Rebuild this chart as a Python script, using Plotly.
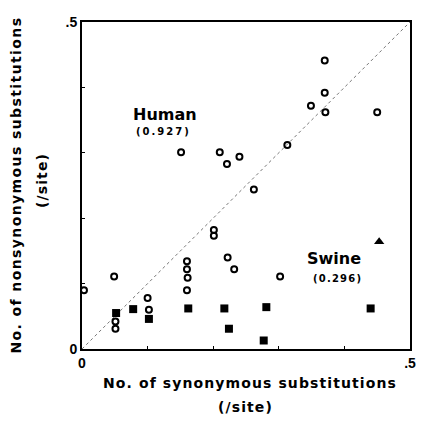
import plotly.graph_objects as go

# Human (open circles): synonymous (x) vs nonsynonymous (y) substitutions per site
human_x = [0.049, 0.003, 0.051, 0.051, 0.100, 0.102,
           0.201, 0.201, 0.160, 0.160, 0.161, 0.160,
           0.222, 0.232, 0.302,
           0.151, 0.210, 0.221, 0.240, 0.262, 0.313,
           0.370, 0.370, 0.349, 0.371, 0.450]
human_y = [0.111, 0.090, 0.042, 0.031, 0.078, 0.060,
           0.182, 0.173, 0.134, 0.122, 0.109, 0.090,
           0.140, 0.122, 0.111,
           0.301, 0.301, 0.283, 0.294, 0.244, 0.312,
           0.441, 0.392, 0.372, 0.362, 0.362]

# Swine (filled squares)
swine_x = [0.052, 0.078, 0.102, 0.162, 0.217, 0.281, 0.224, 0.277, 0.440]
swine_y = [0.055, 0.061, 0.046, 0.062, 0.062, 0.064, 0.031, 0.013, 0.062]

# Swine outlier (filled triangle)
tri_x = [0.453]
tri_y = [0.164]

diag = [0, 0.5]
ticks = [0, 0.1, 0.2, 0.3, 0.4, 0.5]
tick_text = ["0", "", "", "", "", ".5"]

FONT = "DejaVu Sans, Arial, sans-serif"
TFONT = "Liberation Sans, Arial, sans-serif"

fig = go.Figure()
fig.add_trace(go.Scatter(x=diag, y=diag, mode="lines",
                         line=dict(color="#777", width=1, dash="dot"),
                         hoverinfo="skip"))
fig.add_trace(go.Scatter(x=human_x, y=human_y, mode="markers",
                         marker=dict(symbol="circle-open", size=6,
                                     color="black", line=dict(width=2, color="black"))))
fig.add_trace(go.Scatter(x=swine_x, y=swine_y, mode="markers",
                         marker=dict(symbol="square", size=8, color="black")))
fig.add_trace(go.Scatter(x=tri_x, y=tri_y, mode="markers",
                         marker=dict(symbol="triangle-up", size=9, color="black")))

def ann(x, y, text, size, spacing=0, xref="x", yref="y", angle=0):
    fig.add_annotation(x=x, y=y, xref=xref, yref=yref,
                       text=f'<span style="letter-spacing:{spacing}px"><b>{text}</b></span>',
                       showarrow=False, textangle=angle, borderpad=0,
                       xanchor="center", yanchor="middle",
                       font=dict(family=FONT, size=size, color="black"))

ann(0.127, 0.358, "Human", 16)
ann(0.124, 0.333, "(0.927)", 10, 2)
ann(0.384, 0.138, "Swine", 16)
ann(0.389, 0.108, "(0.296)", 10, 1.2)

# axis titles
ann(0.512, -0.104, "No. of synonymous substitutions", 14, 1.1, "paper", "paper")
ann(0.497, -0.177, "(/site)", 14, 1.1, "paper", "paper")
ann(-0.204, 0.50, "No. of nonsynonymous substitutions", 14, 1.4, "paper", "paper", -90)
ann(-0.122, 0.517, "(/site)", 14, 1.1, "paper", "paper", -90)

axis_common = dict(range=[0, 0.5], tickvals=ticks, ticktext=tick_text,
                   ticks="inside", ticklen=3, tickwidth=1, tickcolor="black",
                   showline=True, linewidth=2, linecolor="black", mirror=True,
                   showgrid=False, zeroline=False, automargin=False,
                   tickfont=dict(family=TFONT, size=14, color="black", weight="bold"))

# page body adds an 8px offset, so the figure is sized to fit the window
fig.update_layout(
    width=418, height=415,
    margin=dict(l=74, r=16, t=14, b=74),
    paper_bgcolor="white", plot_bgcolor="white",
    showlegend=False,
    xaxis=dict(**axis_common),
    yaxis=dict(**axis_common),
)

fig.write_html("out.html")
